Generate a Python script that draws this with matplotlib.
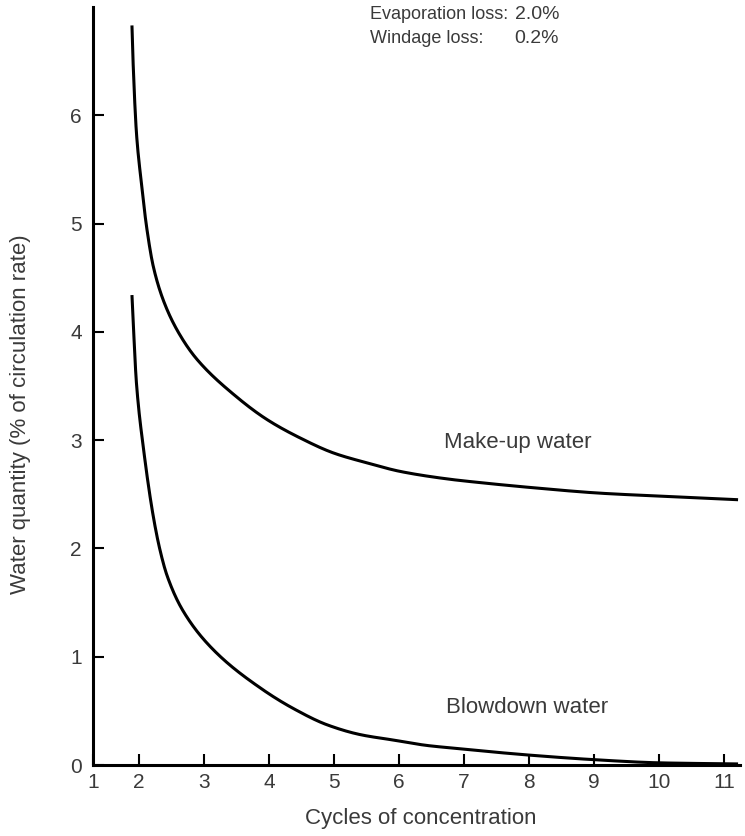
import numpy as np
import matplotlib
matplotlib.use("Agg")
import matplotlib.pyplot as plt

# values (x in cycles of concentration, y in % of circulation rate)
makeup_x = [1.89, 1.91, 1.96, 2.03, 2.12, 2.22, 2.40, 2.65, 2.90, 3.46, 3.97,
            4.48, 5.00, 5.51, 6.03, 6.77, 7.06, 8.08, 9.11, 10.14, 11.22]
makeup_y = [6.83, 6.45, 5.83, 5.40, 4.95, 4.60, 4.25, 3.95, 3.74, 3.42, 3.19,
            3.02, 2.88, 2.79, 2.71, 2.64, 2.62, 2.56, 2.51, 2.48, 2.45]

blowdown_x = [1.89, 1.96, 2.07, 2.22, 2.32, 2.43, 2.68, 3.15, 3.87, 4.38, 4.90,
              5.41, 5.92, 6.44, 6.95, 7.46, 8.04, 8.99, 10.02, 11.22]
blowdown_y = [4.34, 3.52, 2.91, 2.29, 1.99, 1.75, 1.42, 1.06, 0.71, 0.52, 0.37,
              0.28, 0.23, 0.18, 0.15, 0.12, 0.09, 0.05, 0.02, 0.01]

x_ticks = [2, 3, 4, 5, 6, 7, 8, 9, 10, 11]
y_ticks = [0, 1, 2, 3, 4, 5, 6]

# the original axis starts at "1" but the 1-2 gap is squeezed
x_min, x_max = 1.29, 11.25
y_min, y_max = 0, 7.0

text_gray = "#3a3a3a"


def smooth(x, y, n=400):
    """Monotone cubic (Fritsch-Carlson) curve through the read points, for drawing only."""
    x = np.asarray(x, float)
    y = np.asarray(y, float)
    h = np.diff(x)
    d = np.diff(y) / h
    m = np.zeros_like(y)
    m[0], m[-1] = d[0], d[-1]
    for i in range(1, len(x) - 1):
        if d[i - 1] * d[i] > 0:
            w1 = 2 * h[i] + h[i - 1]
            w2 = h[i] + 2 * h[i - 1]
            m[i] = (w1 + w2) / (w1 / d[i - 1] + w2 / d[i])
    xs = np.linspace(x[0], x[-1], n)
    k = np.clip(np.searchsorted(x, xs) - 1, 0, len(x) - 2)
    t = (xs - x[k]) / h[k]
    h00 = 2 * t**3 - 3 * t**2 + 1
    h10 = t**3 - 2 * t**2 + t
    h01 = -2 * t**3 + 3 * t**2
    h11 = t**3 - t**2
    ys = h00 * y[k] + h10 * h[k] * m[k] + h01 * y[k + 1] + h11 * h[k] * m[k + 1]
    return xs, ys


plt.rcParams["font.family"] = ["Liberation Sans", "DejaVu Sans"]

fig = plt.figure(figsize=(7.45, 8.36), dpi=100)
ax = fig.add_axes([0.1248, 0.0849, 0.8685, 0.9067])

ax.plot(*smooth(makeup_x, makeup_y, 1500), color="black", lw=2.2, solid_capstyle="butt")
ax.plot(*smooth(blowdown_x, blowdown_y, 1500), color="black", lw=2.2, solid_capstyle="butt")

ax.set_xlim(x_min, x_max)
ax.set_ylim(y_min, y_max)
ax.set_xticks([x_min] + x_ticks)
ax.set_xticklabels(["1"] + [str(t) for t in x_ticks])
ax.set_yticks(y_ticks)

for side in ["top", "right"]:
    ax.spines[side].set_visible(False)
for side in ["left", "bottom"]:
    ax.spines[side].set_linewidth(2.2)

ax.tick_params(direction="in", length=8, width=1.5, labelsize=15,
               labelcolor=text_gray)
ax.tick_params(axis="x", pad=6)
ax.tick_params(axis="y", pad=8)

fig.text(0.565, 0.021, "Cycles of concentration", fontsize=16, color=text_gray,
         ha="center", va="center")
fig.text(0.027, 0.505, "Water quantity (% of circulation rate)", fontsize=16,
         color=text_gray, ha="center", va="center", rotation=90)

ax.text(6.69, 2.98, "Make-up water", fontsize=16, color=text_gray, va="center")
ax.text(6.72, 0.53, "Blowdown water", fontsize=16, color=text_gray, va="center")

ax.text(5.56, 6.93, "Evaporation loss:", fontsize=13, color=text_gray, va="center")
ax.text(7.78, 6.93, "2.0%", fontsize=14, color=text_gray, va="center")
ax.text(5.56, 6.71, "Windage loss:", fontsize=13, color=text_gray, va="center")
ax.text(7.78, 6.71, "0.2%", fontsize=14, color=text_gray, va="center")

fig.savefig("out.png", dpi=100)
